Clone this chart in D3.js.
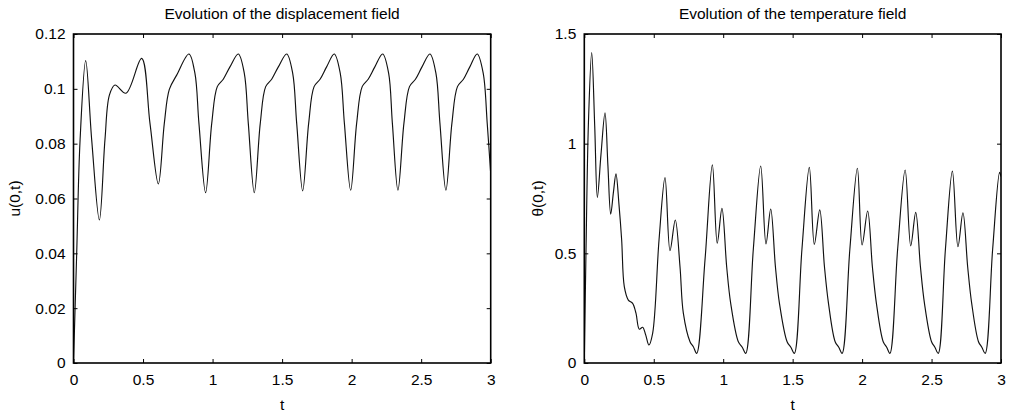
<!DOCTYPE html>
<html>
<head>
<meta charset="utf-8">
<script src="https://cdn.jsdelivr.net/npm/d3@7"></script>
<style>
  body { margin: 0; background: #fff; }
  text { font-family: "Liberation Sans", Arial, Helvetica, sans-serif; fill: #000; }
</style>
</head>
<body>
<div id="chart"></div>
<script>
// displacement u(0,t)
const tU = [0, 0.023, 0.047, 0.0877, 0.131, 0.186, 0.226, 0.258, 0.298, 0.377, 0.49, 0.55, 0.61,
  0.653, 0.689, 0.742, 0.83, 0.873, 0.902, 0.95,
  0.994, 1.034, 1.077, 1.125, 1.185, 1.228, 1.257, 1.30,
  1.343, 1.382, 1.425, 1.473, 1.533, 1.576, 1.605, 1.648,
  1.691, 1.73, 1.773, 1.82, 1.875, 1.918, 1.948, 1.993,
  2.036, 2.076, 2.119, 2.167, 2.223, 2.266, 2.293, 2.333,
  2.376, 2.416, 2.459, 2.506, 2.563, 2.606, 2.635, 2.678,
  2.721, 2.761, 2.804, 2.85, 2.903, 2.946, 2.975, 3.0];
const uVals = [0, 0.040, 0.081, 0.1103, 0.0813, 0.0522, 0.0813, 0.0977, 0.1014, 0.0984, 0.1111, 0.0874, 0.0653,
  0.0874, 0.0998, 0.105, 0.1127, 0.1057, 0.0874, 0.0621,
  0.0874, 0.1008, 0.1035, 0.108, 0.1127, 0.1057, 0.0874, 0.0621,
  0.0874, 0.1008, 0.1035, 0.108, 0.1127, 0.1057, 0.0874, 0.0628,
  0.0874, 0.1008, 0.1035, 0.108, 0.1127, 0.1057, 0.0874, 0.063,
  0.0874, 0.1008, 0.1035, 0.108, 0.1127, 0.1057, 0.0874, 0.063,
  0.0874, 0.1008, 0.1035, 0.108, 0.1127, 0.1057, 0.0874, 0.063,
  0.0874, 0.1008, 0.1035, 0.108, 0.1127, 0.1057, 0.0874, 0.069];

// temperature theta(0,t)
const tTh = [0, 0.012, 0.03, 0.0533, 0.075, 0.094, 0.12, 0.149, 0.17, 0.19, 0.21, 0.228, 0.25,
  0.269, 0.288, 0.317, 0.348, 0.372, 0.396, 0.42, 0.442, 0.465, 0.492, 0.538,
  0.581, 0.617, 0.655, 0.689, 0.713, 0.761, 0.785, 0.809, 0.869,
  0.922, 0.957, 0.991, 1.025, 1.054, 1.109, 1.137, 1.162, 1.217,
  1.27, 1.308, 1.342, 1.376, 1.405, 1.46, 1.487, 1.512, 1.567,
  1.62, 1.656, 1.695, 1.729, 1.758, 1.806, 1.832, 1.856, 1.912,
  1.966, 2.0, 2.04, 2.074, 2.103, 2.152, 2.177, 2.2, 2.256,
  2.31, 2.35, 2.386, 2.42, 2.449, 2.5, 2.524, 2.548, 2.6,
  2.65, 2.69, 2.726, 2.76, 2.789, 2.838, 2.862, 2.886, 2.94,
  2.99, 3.0];
const thVals = [0, 0.5, 1.1, 1.415, 1.08, 0.755, 0.95, 1.141, 0.9, 0.679, 0.78, 0.862, 0.72,
  0.561, 0.348, 0.287, 0.272, 0.227, 0.154, 0.163, 0.128, 0.082, 0.135, 0.561,
  0.845, 0.512, 0.652, 0.439, 0.227, 0.097, 0.074, 0.044, 0.47,
  0.903, 0.546, 0.705, 0.439, 0.272, 0.097, 0.072, 0.044, 0.52,
  0.898, 0.543, 0.702, 0.439, 0.272, 0.097, 0.072, 0.044, 0.52,
  0.892, 0.541, 0.698, 0.439, 0.272, 0.097, 0.072, 0.044, 0.52,
  0.888, 0.538, 0.693, 0.439, 0.272, 0.097, 0.072, 0.044, 0.52,
  0.880, 0.534, 0.687, 0.439, 0.272, 0.097, 0.072, 0.044, 0.52,
  0.875, 0.530, 0.685, 0.439, 0.272, 0.097, 0.072, 0.044, 0.52,
  0.869, 0.85];

const xTicks = [0, 0.5, 1, 1.5, 2, 2.5, 3];
const uTicks = [0, 0.02, 0.04, 0.06, 0.08, 0.1, 0.12];
const thTicks = [0, 0.5, 1, 1.5];

const width = 1009,
  height = 415,
  plotTop = 34,
  plotBottom = 363,
  tickLen = 4,
  fontSize = 15.5;

const svg = d3.select("#chart")
  .append("svg")
  .attr("width", width)
  .attr("height", height);

function panel(opts) {
  const x = d3.scaleLinear().domain([0, 3]).range([opts.left, opts.right]);
  const y = d3.scaleLinear().domain(opts.yDomain).range([plotBottom, plotTop]);
  const g = svg.append("g");

  g.append("clipPath").attr("id", opts.id)
    .append("rect")
    .attr("x", opts.left).attr("y", plotTop)
    .attr("width", opts.right - opts.left).attr("height", plotBottom - plotTop);

  const pts = opts.t.map((t, i) => [t, opts.v[i]]);
  const line = d3.line()
    .x(d => x(d[0]))
    .y(d => y(d[1]))
    .curve(d3.curveCatmullRom.alpha(0.5));

  g.append("path")
    .attr("clip-path", `url(#${opts.id})`)
    .attr("d", line(pts))
    .attr("fill", "none")
    .attr("stroke", "#111")
    .attr("stroke-width", 1.15);

  // axes: ticks inward, mirrored on all four sides
  const fmt = d => String(d);
  g.append("g").attr("transform", `translate(0,${plotBottom})`)
    .call(d3.axisBottom(x).tickValues(xTicks).tickSizeInner(-tickLen).tickSizeOuter(0).tickPadding(11).tickFormat(fmt));
  g.append("g").attr("transform", `translate(0,${plotTop})`)
    .call(d3.axisTop(x).tickValues(xTicks).tickSizeInner(-tickLen).tickSizeOuter(0).tickFormat(""));
  g.append("g").attr("transform", `translate(${opts.left},0)`)
    .call(d3.axisLeft(y).tickValues(opts.yTicks).tickSizeInner(-tickLen).tickSizeOuter(0).tickPadding(8).tickFormat(fmt));
  g.append("g").attr("transform", `translate(${opts.right},0)`)
    .call(d3.axisRight(y).tickValues(opts.yTicks).tickSizeInner(-tickLen).tickSizeOuter(0).tickFormat(""));

  g.selectAll(".domain").remove();
  g.selectAll(".tick line").attr("stroke", "#000").attr("stroke-width", 1);
  g.selectAll(".tick text")
    .attr("font-family", "'Liberation Sans', Arial, sans-serif")
    .attr("font-size", fontSize)
    .attr("fill", "#000");

  g.append("rect")
    .attr("x", opts.left).attr("y", plotTop)
    .attr("width", opts.right - opts.left).attr("height", plotBottom - plotTop)
    .attr("fill", "none")
    .attr("stroke", "#000")
    .attr("stroke-width", 1.6);

  const cx = (opts.left + opts.right) / 2;
  g.append("text")
    .attr("x", cx).attr("y", 19)
    .attr("text-anchor", "middle")
    .attr("font-size", fontSize)
    .text(opts.title);

  g.append("text")
    .attr("x", cx).attr("y", 410)
    .attr("text-anchor", "middle")
    .attr("font-size", fontSize)
    .text("t");

  g.append("text")
    .attr("transform", `translate(${opts.labelX},${(plotTop + plotBottom) / 2}) rotate(-90)`)
    .attr("text-anchor", "middle")
    .attr("font-size", fontSize)
    .text(opts.yLabel);
}

panel({
  id: "clipU", left: 73.5, right: 490.7,
  yDomain: [0, 0.12], yTicks: uTicks,
  t: tU, v: uVals,
  title: "Evolution of the displacement field",
  yLabel: "u(0,t)", labelX: 20
});

panel({
  id: "clipTh", left: 584.3, right: 1001,
  yDomain: [0, 1.5], yTicks: thTicks,
  t: tTh, v: thVals,
  title: "Evolution of the temperature field",
  yLabel: "θ(0,t)", labelX: 543
});
</script>
</body>
</html>
